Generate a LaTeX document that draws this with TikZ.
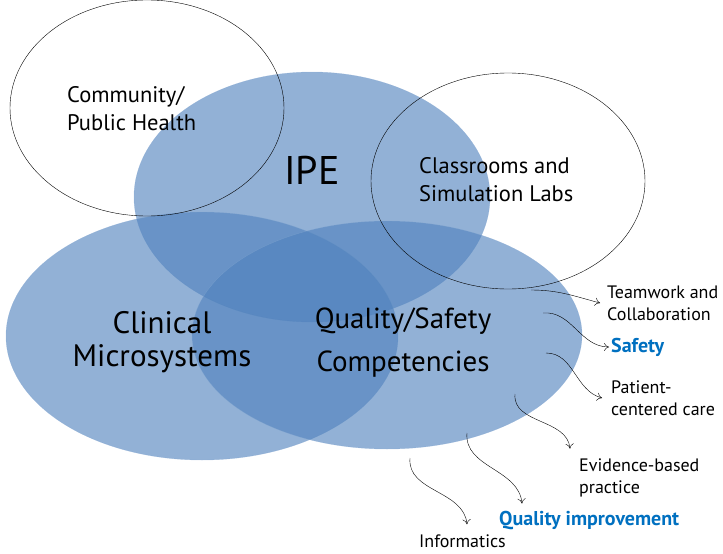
\documentclass[tikz,border=0pt]{standalone}
\usepackage{fontspec}
\setmainfont{PT Sans}
\usetikzlibrary{shapes.geometric,arrows.meta}
\definecolor{venn}{RGB}{79,129,189}
\definecolor{hilite}{RGB}{0,112,192}
\begin{document}
\begin{tikzpicture}[x=1pt,y=1pt]
        \tikzstyle{area}=[ellipse,inner sep=0pt,fill=venn,fill opacity=0.62,draw=venn!70,draw opacity=0.5]
        \tikzstyle{ring}=[ellipse,inner sep=0pt,draw=black,thin]
        \tikzstyle{item}=[anchor=west,align=left,inner sep=0pt,font=\fontsize{18}{22}\selectfont]
        \tikzstyle{pointer}=[draw,thin,-{To[length=5pt,width=8pt]}]
       \useasboundingbox (0,0) rectangle (723,-554);
       \begin{scope}
         % the three overlapping areas
         \node [area,minimum width=356,minimum height=250] (ipe) at (312,-197) {};
         \node [area,minimum width=392,minimum height=248] (clin) at (202,-336) {};
         \node [area,minimum width=390,minimum height=228] (qual) at (387,-335) {};
         % settings
         \node [ring,minimum width=274,minimum height=216] (comm) at (147,-108) {};
         \node [ring,minimum width=274,minimum height=216] (labs) at (508,-181) {};
         % labels
         \node [font=\fontsize{40}{44}\selectfont] (ipetext) at (312,-170) {IPE};
         \node [item,font=\fontsize{22.5}{28}\selectfont] (commtext) at (67,-109) {Community/\\Public Health};
         \node [item,font=\fontsize{22.5}{28}\selectfont] (labstext) at (419,-180) {Classrooms and\\Simulation Labs};
         \node [align=center,font=\fontsize{31}{33}\selectfont] (clintext) at (162,-342) {Clinical\\Microsystems};
         \node [align=center,font=\fontsize{29}{43}\selectfont] (qualtext) at (403,-343) {Quality/Safety\\Competencies};
         % competencies
         \node [item] (team) at (607,-303) {Teamwork and\\Collaboration};
         \node [item,font=\fontsize{20}{22}\selectfont\bfseries,text=hilite] (safety) at (611,-347) {Safety};
         \node [item] (patient) at (611,-398) {Patient-\\centered care};
         \node [item] (evid) at (579,-478) {Evidence-based\\practice};
         \node [item,font=\fontsize{20}{22}\selectfont\bfseries,text=hilite] (qi) at (499,-521) {Quality improvement};
         \node [item] (info) at (419,-541) {Informatics};
         \coordinate (p1) at (531,-290);
         \coordinate (p2) at (543,-313);
         \coordinate (p3) at (546,-353);
         \coordinate (p4) at (515,-394);
         \coordinate (p5) at (467,-433);
         \coordinate (p6) at (410,-458);
         \path[pointer] (p1) to [out=0,in=165] ([xshift=-7pt]team.west);
         \path[pointer] (p2) to [out=5,in=180] ([xshift=-2pt]safety.west);
         \path[pointer] (p3) to [out=0,in=165] ([xshift=-9pt]patient.west);
         \path[pointer] (p4) to [out=-95,in=95] ([xshift=-9pt,yshift=10pt]evid.north west);
         \path[pointer] (p5) to [out=-95,in=95] ([xshift=23pt,yshift=8pt]qi.north west);
         \path[pointer] (p6) to [out=-95,in=95] ([xshift=48pt,yshift=10pt]info.north west);
        \end{scope}
      \end{tikzpicture}
\end{document}
